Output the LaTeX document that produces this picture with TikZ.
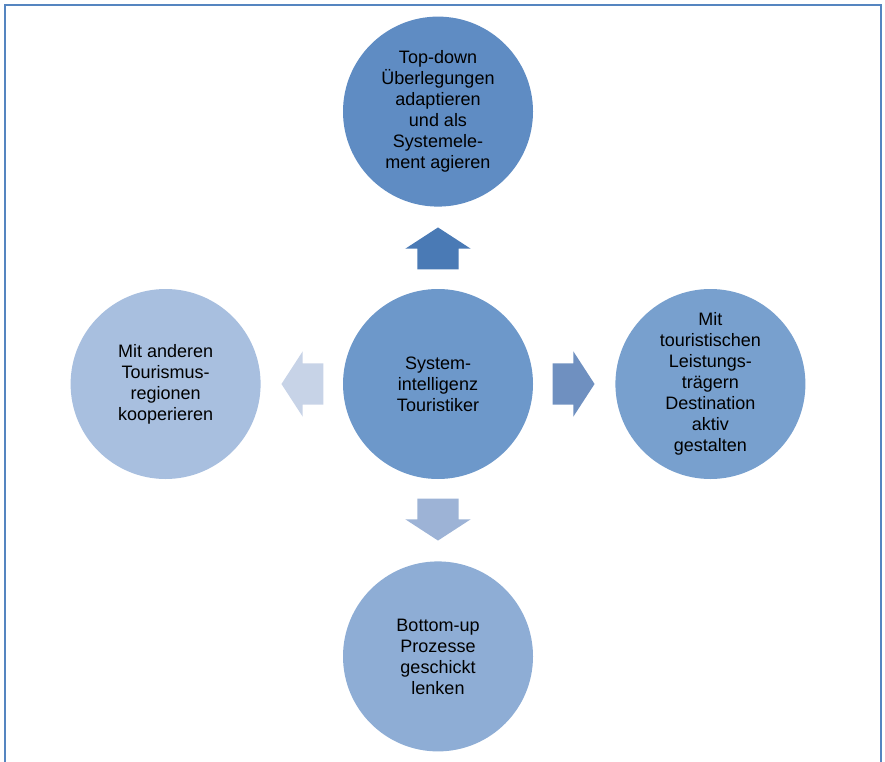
\documentclass[tikz,border=0pt]{standalone}
\usepackage{fontspec}
\setmainfont{Liberation Sans}
\usetikzlibrary{shapes.arrows, positioning}

\definecolor{frameblue}{HTML}{5585C0}
\definecolor{topfill}{HTML}{5F8CC3}
\definecolor{midfill}{HTML}{6D98CA}
\definecolor{rightfill}{HTML}{78A0CE}
\definecolor{leftfill}{HTML}{A8BFDF}
\definecolor{bottomfill}{HTML}{8EADD5}
\definecolor{uparrow}{HTML}{4A7AB5}
\definecolor{rightarrow}{HTML}{6F90C0}
\definecolor{downarrow}{HTML}{9DB3D6}
\definecolor{leftarrow}{HTML}{C7D3E7}

\begin{document}
\begin{tikzpicture}[
    x=1pt, y=-1pt,
    node distance=82pt,
    circ/.style={circle, minimum size=190pt, inner sep=0pt, align=center, font=\fontsize{18}{21}\selectfont, text=black},
    blockarrow/.style={single arrow, draw=none, minimum height=42pt, inner xsep=0pt, inner ysep=20.5pt, single arrow head extend=12pt, single arrow tip angle=114, sloped, allow upside down, pos=0.41}
]
\useasboundingbox (0,0) rectangle (885,762);

% Frame
\draw[frameblue, line width=2pt] (5,775) -- (5,5) -- (881,5) -- (881,775);

% Circles
\node[circ, fill=midfill] (sys) at (438,384) {System-\\intelligenz\\Touristiker};
\node[circ, fill=topfill, above=of sys] (topdown) {Top-down\\Überlegungen\\adaptieren\\und als\\Systemele-\\ment agieren};
\node[circ, fill=rightfill, right=of sys] (partner) {Mit\\touristischen\\Leistungs-\\trägern\\Destination\\aktiv\\gestalten};
\node[circ, fill=bottomfill, below=of sys] (bottomup) {Bottom-up\\Prozesse\\geschickt\\lenken};
\node[circ, fill=leftfill, left=of sys] (regions) {Mit anderen\\Tourismus-\\regionen\\kooperieren};

% Arrows
\path (sys) -- node[blockarrow, fill=uparrow] {} (topdown);
\path (sys) -- node[blockarrow, fill=rightarrow] {} (partner);
\path (sys) -- node[blockarrow, fill=downarrow] {} (bottomup);
\path (sys) -- node[blockarrow, fill=leftarrow] {} (regions);

\end{tikzpicture}
\end{document}
